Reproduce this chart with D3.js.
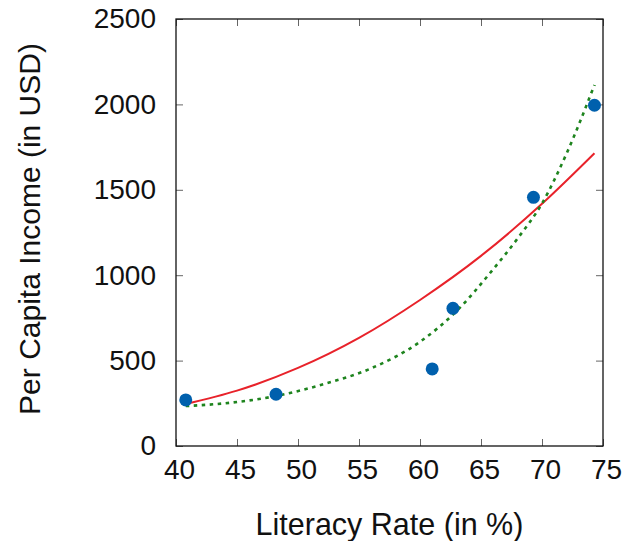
<!DOCTYPE html>
<html>
<head>
<meta charset="utf-8">
<script src="https://cdn.jsdelivr.net/npm/d3@7"></script>
<style>
  html, body { margin: 0; padding: 0; background: #fff; }
  svg { display: block; }
  text { font-family: "Liberation Sans", Arial, Helvetica, sans-serif; fill: #111; }
</style>
</head>
<body>
<script>
// ---- data ----
const literacy = [40.8, 48.2, 61.0, 62.7, 69.3, 74.3];
const income   = [270, 303, 451, 806, 1456, 1995];

// solid red fit curve
const redX = [40.8, 45, 50, 55, 60, 65, 70, 74.3];
const redY = [246, 324, 457, 633, 855, 1113, 1418, 1714];

// dotted green fit curve
const greenX = [40.8, 44, 48, 52, 56, 60, 63, 66, 68, 70, 72, 74.3];
const greenY = [234, 250, 290, 360, 455, 610, 790, 1035, 1215, 1420, 1710, 2114];

const xTicks = [40, 45, 50, 55, 60, 65, 70, 75];
const yTicks = [0, 500, 1000, 1500, 2000, 2500];

const xTitle = "Literacy Rate (in %)";
const yTitle = "Per Capita Income (in USD)";

// ---- layout ----
const W = 635, H = 541;
const mL = 176, mR = 603, mT = 19, mB = 446;

const svg = d3.select("body").append("svg").attr("width", W).attr("height", H);

const x = d3.scaleLinear().domain([40, 75]).range([mL, mR]);
const y = d3.scaleLinear().domain([0, 2500]).range([mB, mT]);

const tickLen = 7;
const tickColor = "#666";

// axes with inward ticks on all sides
const gB = svg.append("g").attr("transform", `translate(0,${mB})`)
  .call(d3.axisBottom(x).tickValues(xTicks).tickFormat(d3.format("d"))
    .tickSizeInner(-tickLen).tickSizeOuter(0).tickPadding(13));
const gT = svg.append("g").attr("transform", `translate(0,${mT})`)
  .call(d3.axisTop(x).tickValues(xTicks).tickSizeInner(-tickLen).tickSizeOuter(0).tickFormat(""));
const gL = svg.append("g").attr("transform", `translate(${mL},0)`)
  .call(d3.axisLeft(y).tickValues(yTicks).tickFormat(d3.format("d"))
    .tickSizeInner(-tickLen).tickSizeOuter(0).tickPadding(20));
const gR = svg.append("g").attr("transform", `translate(${mR},0)`)
  .call(d3.axisRight(y).tickValues(yTicks).tickSizeInner(-tickLen).tickSizeOuter(0).tickFormat(""));

[gB, gT, gL, gR].forEach(g => {
  g.select(".domain").remove();
  g.selectAll(".tick line").attr("stroke", tickColor).attr("stroke-width", 1);
});
gB.selectAll(".tick text").attr("font-size", 28).attr("dx", 3)
  .attr("font-family", "Liberation Sans, Arial, sans-serif").attr("fill", "#111");
gL.selectAll(".tick text").attr("font-size", 28)
  .attr("font-family", "Liberation Sans, Arial, sans-serif").attr("fill", "#111");

// frame
svg.append("rect")
  .attr("x", mL).attr("y", mT)
  .attr("width", mR - mL).attr("height", mB - mT)
  .attr("fill", "none").attr("stroke", "#111").attr("stroke-width", 1.3);

// curves
const line = d3.line().x(d => x(d[0])).y(d => y(d[1])).curve(d3.curveMonotoneX);

svg.append("path")
  .datum(redX.map((v, i) => [v, redY[i]]))
  .attr("d", line)
  .attr("fill", "none").attr("stroke", "#e8222a").attr("stroke-width", 2);

svg.append("path")
  .datum(greenX.map((v, i) => [v, greenY[i]]))
  .attr("d", line)
  .attr("fill", "none").attr("stroke", "#1e841e").attr("stroke-width", 2.6)
  .attr("stroke-dasharray", "3.5,4.5");

// points
svg.append("g").selectAll("circle")
  .data(literacy.map((v, i) => [v, income[i]]))
  .join("circle")
  .attr("cx", d => x(d[0])).attr("cy", d => y(d[1]))
  .attr("r", 6.5).attr("fill", "#0060ad");

// axis titles
svg.append("text")
  .attr("x", (mL + mR) / 2).attr("y", 535)
  .attr("text-anchor", "middle").attr("font-size", 30.5)
  .text(xTitle);

svg.append("text")
  .attr("transform", `translate(40,229) rotate(-90)`)
  .attr("text-anchor", "middle").attr("font-size", 30)
  .text(yTitle);
</script>
</body>
</html>
